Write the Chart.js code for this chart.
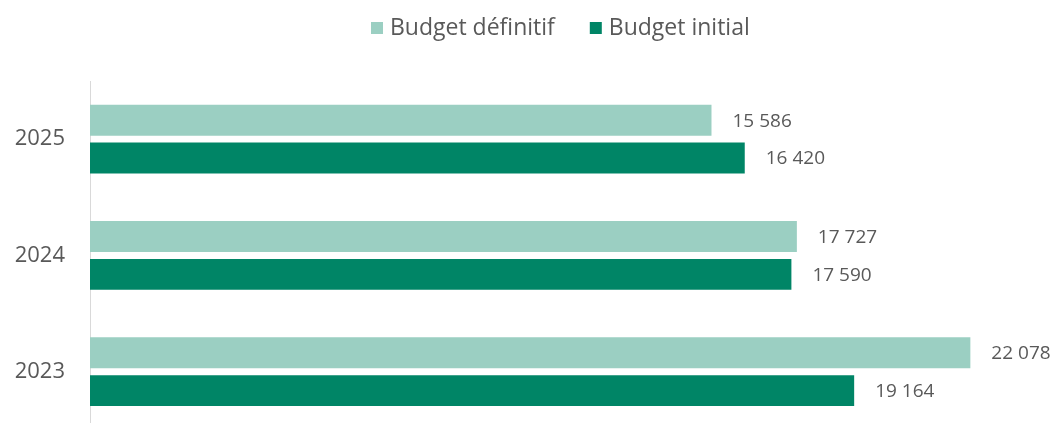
<!DOCTYPE html>
<html lang="fr">
<head>
<meta charset="utf-8">
<script src="https://cdn.jsdelivr.net/npm/chart.js@4.4.1/dist/chart.umd.min.js"></script>
<style>
  html, body { margin: 0; padding: 0; background: #ffffff; overflow: hidden; }
  #wrap { width: 1056px; height: 423px; overflow: hidden; }
  canvas { display: block; }
</style>
</head>
<body>
<!-- The y axis keeps room below its last label, so the canvas runs past the visible frame
     and the plot area reaches the bottom edge. -->
<div id="wrap"><canvas id="chart" width="1056" height="468"></canvas></div>
<script>
// Années et montants (en millions d'euros)
const years = ['2025', '2024', '2023'];
const budgetDefinitif = [15586, 17727, 22078];
const budgetInitial = [16420, 17590, 19164];
const seriesNames = ['Budget définitif', 'Budget initial'];
const seriesColors = ['#9BCFC2', '#008566'];

const TEXT = '#595959';
const FONT = "'Open Sans', 'Noto Sans', sans-serif";

function formatFr(v) {
  return String(v).replace(/\B(?=(\d{3})+(?!\d))/g, ' ');
}

// Étiquettes de valeur à droite de chaque barre
const valueLabels = {
  id: 'valueLabels',
  afterDatasetsDraw(chart) {
    const ctx = chart.ctx;
    ctx.save();
    ctx.font = '19px ' + FONT;
    ctx.fillStyle = TEXT;
    ctx.textAlign = 'left';
    ctx.textBaseline = 'middle';
    chart.data.datasets.forEach((ds, i) => {
      chart.getDatasetMeta(i).data.forEach((bar, j) => {
        ctx.fillText(formatFr(ds.data[j]), bar.x + 21, bar.y + 1);
      });
    });
    ctx.restore();
  }
};

// Légende en haut : carré de couleur puis libellé, centrée au-dessus des barres
const topLegend = {
  id: 'topLegend',
  afterDraw(chart) {
    const ctx = chart.ctx;
    const box = 12, gap = 7, spacing = 35, baseline = 35;
    ctx.save();
    ctx.font = '23px ' + FONT;
    ctx.textBaseline = 'alphabetic';
    ctx.textAlign = 'left';
    const items = chart.data.datasets.map(ds => ({
      text: ds.label, color: ds.backgroundColor, w: ctx.measureText(ds.label).width
    }));
    const total = items.reduce((s, it) => s + box + gap + it.w, 0) + spacing * (items.length - 1);
    const center = (chart.chartArea.left + chart.chartArea.right) / 2 - 8;
    let x = Math.round(center - total / 2);
    items.forEach(it => {
      ctx.fillStyle = it.color;
      ctx.fillRect(x, baseline - 13, box, box);
      x += box + gap;
      ctx.fillStyle = TEXT;
      ctx.fillText(it.text, x, baseline);
      x += it.w + spacing;
    });
    ctx.restore();
  }
};

new Chart(document.getElementById('chart'), {
  type: 'bar',
  data: {
    labels: years,
    datasets: [
      { label: seriesNames[0], data: budgetDefinitif, backgroundColor: seriesColors[0] },
      { label: seriesNames[1], data: budgetInitial, backgroundColor: seriesColors[1] }
    ]
  },
  options: {
    indexAxis: 'y',
    responsive: false,
    animation: false,
    categoryPercentage: 0.652,
    barPercentage: 0.816,
    layout: { padding: { left: 0, right: 9, top: 81, bottom: 0 } },
    scales: {
      x: {
        display: false,
        min: 0,
        max: 24000
      },
      y: {
        afterFit(scale) { scale.width = 90; },
        grid: { display: false, drawTicks: false },
        border: { display: true, color: '#D9D9D9', width: 1 },
        ticks: {
          padding: 25,
          color: TEXT,
          font: { family: FONT, size: 22 }
        }
      }
    },
    plugins: {
      legend: { display: false },
      tooltip: { enabled: false }
    }
  },
  plugins: [valueLabels, topLegend]
});
</script>
</body>
</html>
